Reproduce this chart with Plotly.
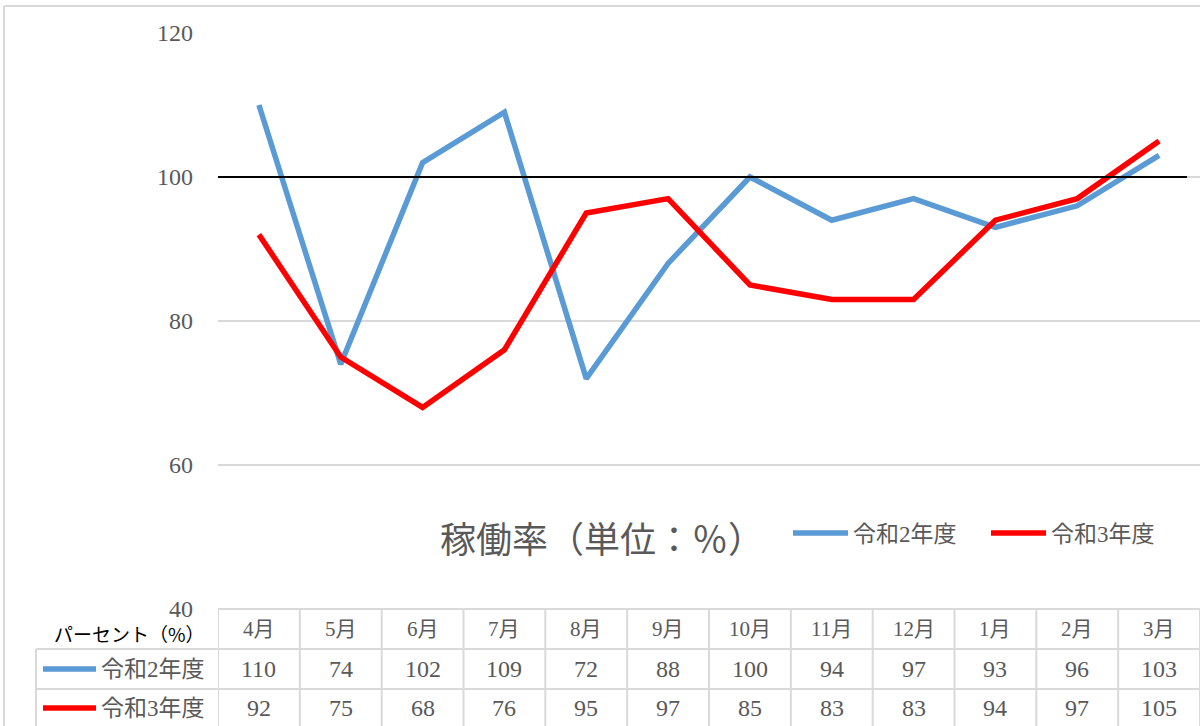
import plotly.graph_objects as go

months = ["4月", "5月", "6月", "7月", "8月", "9月", "10月", "11月", "12月", "1月", "2月", "3月"]
series_names = ["令和2年度", "令和3年度"]
r2_values = [110, 74, 102, 109, 72, 88, 100, 94, 97, 93, 96, 103]
r3_values = [92, 75, 68, 76, 95, 97, 85, 83, 83, 94, 97, 105]
y_ticks = [40, 60, 80, 100, 120]
reference_value = 100
title_text = "稼働率（単位：％）"
table_header = "パーセント（%）"

W, H = 1200, 726
colors = ["#5B9BD5", "#FF0000"]
GRAY = "#595959"
GRID = "#D9D9D9"
SERIF = "Liberation Serif, Noto Sans CJK JP"
SANS = "Noto Sans CJK JP"


def py(p):
    return 1 - p / H


def px(p):
    return p / W


fig = go.Figure()
idx = list(range(len(months)))
for name, vals, col in zip(series_names, [r2_values, r3_values], colors):
    fig.add_trace(go.Scatter(x=idx, y=vals, mode="lines", name=name,
                             line=dict(color=col, width=5.5), showlegend=False,
                             hoverinfo="skip"))

shapes = []
annotations = []

# outer frame
shapes.append(dict(type="line", xref="paper", yref="paper", x0=px(4), x1=1, y0=py(6), y1=py(6),
                   line=dict(color=GRID, width=2)))
shapes.append(dict(type="line", xref="paper", yref="paper", x0=px(4), x1=px(4), y0=py(6), y1=0,
                   line=dict(color=GRID, width=2)))

# reference line at 100
shapes.append(dict(type="line", xref="paper", yref="y", x0=px(218), x1=px(1187),
                   y0=reference_value, y1=reference_value, line=dict(color="black", width=2)))

# table lines
shapes.append(dict(type="line", xref="paper", yref="paper", x0=px(218), x1=1, y0=py(609), y1=py(609),
                   line=dict(color=GRID, width=2)))
for yy in [649, 689]:
    shapes.append(dict(type="line", xref="paper", yref="paper", x0=px(36), x1=1, y0=py(yy), y1=py(yy),
                       line=dict(color=GRID, width=2)))
for i in range(len(months) + 1):
    shapes.append(dict(type="line", xref="x", yref="paper", x0=i - 0.5, x1=i - 0.5,
                       y0=py(609), y1=0, line=dict(color=GRID, width=2)))
shapes.append(dict(type="line", xref="paper", yref="paper", x0=px(36), x1=px(36),
                   y0=py(649), y1=0, line=dict(color=GRID, width=2)))

# table text
annotations.append(dict(xref="paper", yref="paper", x=px(207), y=py(633), text=table_header,
                        showarrow=False, xanchor="right", yanchor="middle",
                        font=dict(family=SANS, size=19, color="#000000")))
for i, m in enumerate(months):
    annotations.append(dict(xref="x", yref="paper", x=i, y=py(629), text=m, showarrow=False,
                            xanchor="center", yanchor="middle",
                            font=dict(family=SERIF, size=21, color=GRAY)))
row_y = [669, 708]
for vals, ry in zip([r2_values, r3_values], row_y):
    for i, v in enumerate(vals):
        annotations.append(dict(xref="x", yref="paper", x=i, y=py(ry), text=str(v), showarrow=False,
                                xanchor="center", yanchor="middle",
                                font=dict(family=SERIF, size=24, color=GRAY)))
for name, col, ry in zip(series_names, colors, row_y):
    shapes.append(dict(type="line", xref="paper", yref="paper", x0=px(43), x1=px(96),
                       y0=py(ry), y1=py(ry), line=dict(color=col, width=5.5)))
    annotations.append(dict(xref="paper", yref="paper", x=px(99), y=py(ry), text=name,
                            showarrow=False, xanchor="left", yanchor="middle",
                            font=dict(family=SERIF, size=23, color=GRAY)))

# title
annotations.append(dict(xref="paper", yref="paper", x=px(602), y=py(537), text=title_text,
                        showarrow=False, xanchor="center", yanchor="middle",
                        font=dict(family=SANS, size=36, color=GRAY)))

# chart legend
leg_pos = [(793, 848, 851), (991, 1046, 1049)]
for name, col, (x0, x1, xt) in zip(series_names, colors, leg_pos):
    shapes.append(dict(type="line", xref="paper", yref="paper", x0=px(x0), x1=px(x1),
                       y0=py(533), y1=py(533), line=dict(color=col, width=5.5)))
    annotations.append(dict(xref="paper", yref="paper", x=px(xt), y=py(534), text=name,
                            showarrow=False, xanchor="left", yanchor="middle",
                            font=dict(family=SERIF, size=23, color=GRAY)))

fig.update_layout(
    width=W, height=H,
    margin=dict(l=0, r=0, t=0, b=0, pad=0, autoexpand=False),
    paper_bgcolor="white", plot_bgcolor="white",
    shapes=shapes, annotations=annotations,
    xaxis=dict(domain=[px(218), 1.0], range=[-0.5, len(months) - 0.5], showticklabels=False,
               showgrid=False, zeroline=False, showline=False, fixedrange=True, automargin=False),
    yaxis=dict(domain=[py(609), py(33)], range=[40, 120], tickvals=y_ticks,
               showgrid=True, gridcolor=GRID, gridwidth=2, zeroline=False, showline=False,
               ticks="", ticklabelstandoff=24, fixedrange=True, automargin=False,
               tickfont=dict(family=SERIF, size=24, color=GRAY)),
)

fig.write_html(
    "out.html",
    config={"displayModeBar": False},
    post_script="document.body.style.margin='0';",
)
